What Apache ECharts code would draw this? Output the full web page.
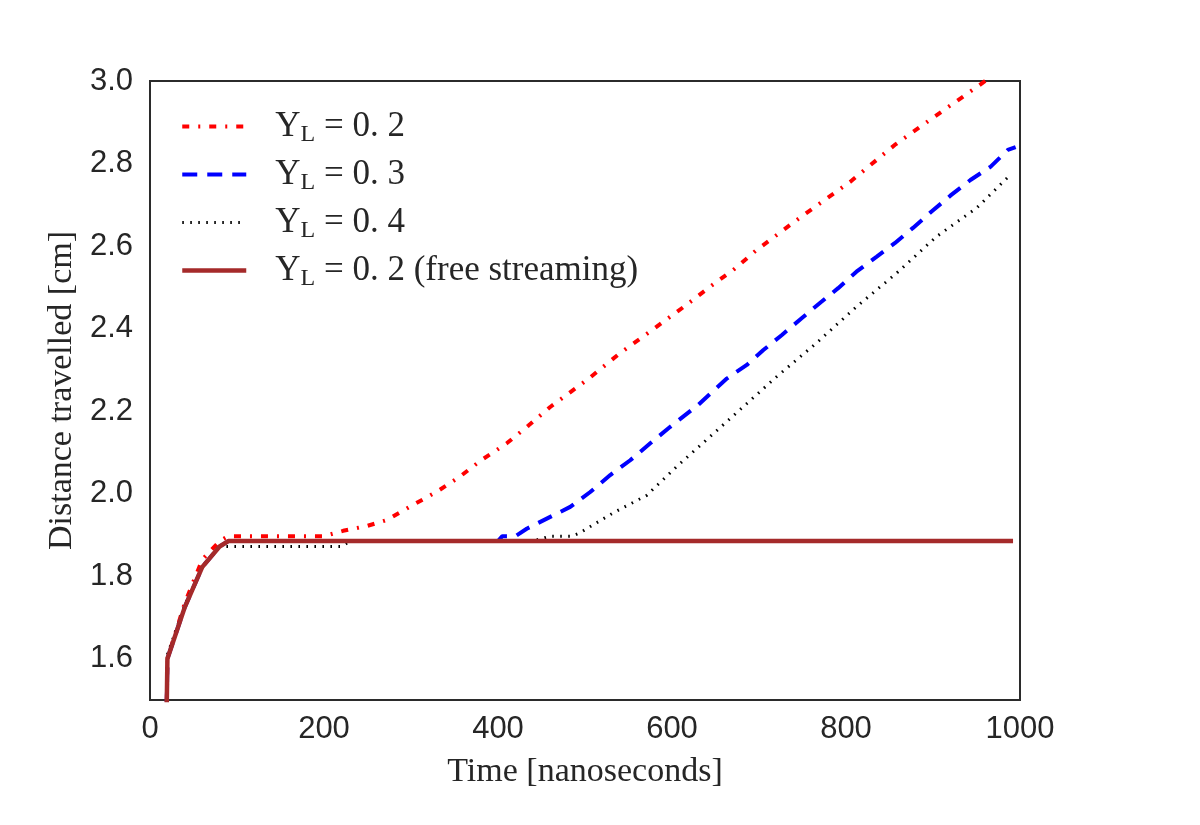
<!DOCTYPE html>
<html>
<head>
<meta charset="utf-8">
<script src="https://cdn.jsdelivr.net/npm/echarts@6/dist/echarts.min.js"></script>
<style>
  html, body { margin: 0; padding: 0; background: #fff; }
  #chart { width: 1200px; height: 825px; }
</style>
</head>
<body>
<div id="chart"></div>
<script>
// values (time in ns, distance in cm)
const redTime = [18, 20, 40, 60, 80, 90, 200, 222, 250, 272, 300, 330, 356, 380, 410, 435, 460, 502, 540, 580, 615, 646, 672, 697, 751, 805, 856, 910, 952, 1000]
const redDist = [1.3, 1.6, 1.735, 1.84, 1.885, 1.897, 1.897, 1.91, 1.922, 1.936, 1.97, 2.005, 2.041, 2.08, 2.122, 2.165, 2.21, 2.275, 2.34, 2.401, 2.455, 2.505, 2.545, 2.59, 2.675, 2.756, 2.845, 2.926, 2.988, 3.06]

const blueTime = [18, 20, 40, 60, 80, 90, 400, 405, 420, 433, 483, 506, 529, 552, 575, 598, 630, 663, 686, 705, 726, 749, 770, 791, 812, 835, 856, 877, 898, 921, 943, 966, 986, 995]
const blueDist = [1.3, 1.6, 1.725, 1.822, 1.872, 1.885, 1.885, 1.897, 1.897, 1.915, 1.968, 2.004, 2.045, 2.081, 2.122, 2.162, 2.215, 2.279, 2.312, 2.348, 2.384, 2.425, 2.462, 2.498, 2.538, 2.574, 2.607, 2.644, 2.683, 2.724, 2.76, 2.792, 2.833, 2.84]

const blackTime = [18, 20, 40, 60, 80, 220, 230, 440, 460, 485, 494, 532, 571, 605, 650, 700, 720, 766, 812, 858, 904, 950, 990]
const blackDist = [1.3, 1.61, 1.73, 1.822, 1.872, 1.872, 1.885, 1.885, 1.897, 1.897, 1.905, 1.953, 1.996, 2.065, 2.15, 2.245, 2.283, 2.365, 2.453, 2.534, 2.623, 2.692, 2.775]

const freeTime = [18, 20, 40, 60, 80, 90, 992]
const freeDist = [1.3, 1.6, 1.725, 1.822, 1.872, 1.885, 1.885]

const xTicks = [0, 200, 400, 600, 800, 1000]
const yTicks = [1.6, 1.8, 2.0, 2.2, 2.4, 2.6, 2.8, 3.0]

const legendNames = ['YL=0.2', 'YL=0.3', 'YL=0.4', 'YL=0.2 free']
const legendText = {
  'YL=0.2': '{a|Y}{sub|L}{a| = 0. 2}',
  'YL=0.3': '{a|Y}{sub|L}{a| = 0. 3}',
  'YL=0.4': '{a|Y}{sub|L}{a| = 0. 4}',
  'YL=0.2 free': '{a|Y}{sub|L}{a| = 0. 2 (free streaming)}'
}

function pairs (xs, ys) {
  return xs.map(function (x, i) { return [x, ys[i]] })
}

const serif = '"Liberation Serif", "DejaVu Serif", serif'
const sans = '"Liberation Sans", Arial, sans-serif'

const myChart = echarts.init(document.getElementById('chart'))
myChart.setOption({
  animation: false,
  backgroundColor: '#fff',
  grid: {
    left: 150,
    right: 180,
    top: 81,
    bottom: 125,
    show: true,
    borderColor: '#2b2b2b',
    borderWidth: 2
  },
  legend: {
    data: legendNames,
    orient: 'vertical',
    left: 175,
    top: 104,
    itemWidth: 64,
    itemHeight: 14,
    itemGap: 10,
    // hide the marker dot, keep only the line sample
    itemStyle: { opacity: 0 },
    lineStyle: { width: 'inherit' },
    formatter: function (name) {
      return legendText[name]
    },
    textStyle: {
      padding: [0, 0, 0, 24],
      rich: {
        a: { fontFamily: serif, fontSize: 35, color: '#262626' },
        sub: { fontFamily: serif, fontSize: 24, color: '#262626', padding: [17, 0, 0, 0] }
      }
    }
  },
  xAxis: {
    type: 'value',
    min: 0,
    max: 1000,
    interval: 200,
    name: 'Time [nanoseconds]',
    nameLocation: 'middle',
    nameGap: 55,
    nameTextStyle: { fontFamily: serif, fontSize: 34, color: '#262626' },
    axisLine: { show: false },
    axisTick: { show: false },
    splitLine: { show: false },
    axisLabel: {
      customValues: xTicks,
      margin: 14,
      fontFamily: sans,
      fontSize: 31,
      color: '#262626',
      formatter: function (v) { return String(v) }
    }
  },
  yAxis: {
    type: 'value',
    min: 1.5,
    max: 3.0,
    name: 'Distance travelled [cm]',
    nameLocation: 'middle',
    nameRotate: 90,
    nameGap: 70,
    nameTextStyle: { fontFamily: serif, fontSize: 34, color: '#262626' },
    axisLine: { show: false },
    axisTick: { show: false },
    splitLine: { show: false },
    axisLabel: {
      customValues: yTicks,
      margin: 17,
      fontFamily: sans,
      fontSize: 31,
      color: '#262626',
      formatter: function (v) { return v.toFixed(1) }
    }
  },
  series: [
    {
      name: 'YL=0.2',
      type: 'line',
      symbol: 'none',
      data: pairs(redTime, redDist),
      lineStyle: { color: '#ff0000', width: 4, type: [7, 9, 2, 9], cap: 'butt' },
      itemStyle: { color: '#ff0000' }
    },
    {
      name: 'YL=0.3',
      type: 'line',
      symbol: 'none',
      data: pairs(blueTime, blueDist),
      lineStyle: { color: '#0000ff', width: 4, type: [15, 10], cap: 'butt' },
      itemStyle: { color: '#0000ff' }
    },
    {
      name: 'YL=0.4',
      type: 'line',
      symbol: 'none',
      data: pairs(blackTime, blackDist),
      lineStyle: { color: '#000000', width: 3, type: [1.6, 6.4], cap: 'butt' },
      itemStyle: { color: '#000000' }
    },
    {
      name: 'YL=0.2 free',
      type: 'line',
      symbol: 'none',
      data: pairs(freeTime, freeDist),
      lineStyle: { color: '#a52a2a', width: 4.5, type: 'solid' },
      itemStyle: { color: '#a52a2a' }
    }
  ]
})
window.addEventListener('resize', function () {
  myChart.resize()
})
</script>
</body>
</html>
